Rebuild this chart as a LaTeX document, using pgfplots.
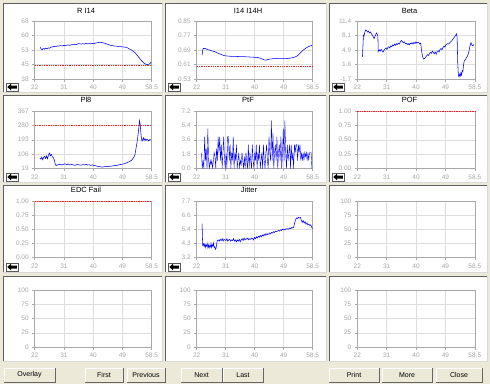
\documentclass[border=0pt]{standalone}
\usepackage{pgfplots}
\pgfplotsset{compat=1.18}
\usepackage{fontspec}
\setmainfont{Liberation Sans}
\definecolor{bg}{HTML}{ECE9D8}
\definecolor{tk}{HTML}{A8A8A8}
\definecolor{gr}{HTML}{DDDDDD}
\definecolor{ln}{HTML}{0000FF}
\definecolor{rd}{HTML}{F02020}
\pgfplotsset{
 mini/.style={clip=false, scale only axis, anchor=north west, xmin=22, xmax=58.5,
  xtick={22,31.125,40.25,49.375,58.5}, xticklabels={22,31,40,49,58.5},
  grid=major, major grid style={gr, line width=0.5pt},
  axis line style={tk, line width=0.5pt}, tick style={tk, line width=0.5pt},
  major tick length=2.5pt, tick align=outside, tick pos=left,
  ticklabel style={font=\fontsize{6.5}{7}\selectfont, text=gray!70},
  /pgf/number format/assume math mode=true},
 c1/.style={mini, width=117pt},
 c2/.style={mini, width=116pt},
 c3/.style={mini, width=117.5pt},
 blu/.style={draw=ln, line width=0.55pt, mark=none},
 redgrid/.style={extra y tick labels={}, extra y tick style={major tick length=0pt, grid=major,
   major grid style={draw=rd, line width=0.8pt, dash pattern=on 1.3pt off 1pt}}},
 unit/.style={ymin=0, ymax=1, ytick={0,0.25,0.5,0.75,1}, yticklabels={0.00,0.25,0.50,0.75,1.00}},
 hund/.style={ymin=0, ymax=100, ytick={0,25,50,75,100}, yticklabels={0,25,50,75,100}},
}
\newcommand\pnl[4]{%
 \fill[white] (#1,#2) rectangle (#3,#4);
 \draw[gray!75!black,line width=0.8pt] (#1,#4) -- (#1,#2) -- (#3,#2);
 \draw[gray!30,line width=0.8pt] (#3,#2) -- (#3,#4) -- (#1,#4);}
\newcommand\icon[2]{%
 \fill[white] (#1+3,#2-9) rectangle (#1+15,#2-1);
 \draw[black!65,line width=0.5pt] (#1+3,#2-9) rectangle (#1+15,#2-1);
 \fill[black] (#1+4.3,#2-5) -- (#1+8,#2-8.3) -- (#1+8,#2-6.5) -- (#1+13.8,#2-6.5) -- (#1+13.8,#2-3.5) -- (#1+8,#2-3.5) -- (#1+8,#2-1.7) -- cycle;}
\newcommand\btn[3]{%
 \fill[bg] (#1,368) rectangle (#2,382);
 \draw[white,line width=0.8pt] (#1,382) -- (#1,368) -- (#2,368);
 \draw[black!60,line width=0.8pt] (#2,368) -- (#2,382) -- (#1,382);
 \node[font=\fontsize{7}{8}\selectfont] at ({(#1+#2)/2},375) {#3};}
\begin{document}
\begin{tikzpicture}
\fill[bg] (0,0) rectangle (490pt,384pt);
\begin{scope}[x=1pt,y=-1pt,yshift=384pt]
 \pnl{3}{3}{162}{92}\pnl{165}{3}{326}{92}\pnl{329}{3}{487}{92}
 \pnl{3}{95}{162}{182}\pnl{165}{95}{326}{182}\pnl{329}{95}{487}{182}
 \pnl{3}{185}{162}{272}\pnl{165}{185}{326}{272}\pnl{329}{185}{487}{272}
 \pnl{3}{276}{162}{361}\pnl{165}{276}{326}{361}\pnl{329}{276}{487}{361}
 \btn{4}{55}{Overlay}\btn{85}{123}{First}\btn{127}{165}{Previous}
 \btn{181}{222}{Next}\btn{223}{263}{Last}
 \btn{329}{379}{Print}\btn{382}{432}{More}\btn{436}{482}{Close}
\end{scope}
% ---------- row 1
\begin{axis}[c1, at={(34.7pt,363pt)}, height=58pt, ymin=38, ymax=68,
  ytick={38,45.5,53,60.5,68}, yticklabels={38,45,53,60,68},
  extra y ticks={45}, redgrid]
\addplot[blu] coordinates {(23.7,54.4)(24.0,53.6)(24.3,53.0)(24.6,53.8)(25.0,53.4)(25.4,54.0)(25.8,53.6)(26.2,54.1)(26.6,53.9)(27.0,54.4)(27.5,54.6)(28.0,54.9)(28.5,54.7)(29.0,55.1)(29.5,55.0)(30.0,55.3)(30.5,55.1)(31.0,55.4)(31.5,55.2)(32.0,55.5)(32.5,55.6)(33.0,55.4)(33.5,55.8)(34.0,55.7)(34.5,56.0)(35.0,55.8)(35.5,56.2)(36.0,56.3)(36.5,56.0)(37.0,56.3)(37.5,56.1)(38.0,56.4)(38.5,56.2)(39.0,56.3)(39.5,56.2)(40.0,56.4)(40.5,56.3)(41.0,56.6)(41.5,56.7)(42.0,56.9)(42.5,57.0)(43.0,56.8)(43.5,56.6)(44.0,56.4)(44.5,56.1)(45.0,55.8)(45.5,55.5)(46.0,55.3)(46.5,55.2)(47.0,55.0)(47.5,55.0)(48.0,54.8)(48.5,54.7)(49.0,54.7)(49.5,54.6)(50.0,54.5)(50.5,54.4)(51.0,54.1)(51.5,53.6)(52.0,53.2)(52.5,52.6)(53.0,52.0)(53.5,51.2)(54.0,50.2)(54.5,49.2)(55.0,48.2)(55.5,47.2)(56.0,46.4)(56.5,45.8)(57.0,45.5)(57.5,45.6)(58.0,46.0)(58.3,46.8)};
\end{axis}
\begin{axis}[c2, at={(196.7pt,363pt)}, height=58pt, ymin=0.53, ymax=0.85,
  ytick={0.53,0.61,0.69,0.77,0.85}, yticklabels={0.53,0.61,0.69,0.77,0.85}]
\addplot[draw=rd, line width=0.8pt, dash pattern=on 1.3pt off 1pt, mark=none] coordinates {(22,0.602)(58.5,0.602)};
\addplot[blu] coordinates {(23.7,0.662)(23.9,0.690)(24.1,0.699)(24.4,0.697)(24.7,0.700)(25.0,0.695)(25.5,0.692)(26.0,0.690)(26.5,0.686)(27.0,0.684)(27.5,0.682)(28.0,0.678)(28.5,0.674)(29.0,0.670)(29.5,0.667)(30.0,0.663)(30.5,0.660)(31.0,0.658)(32.0,0.656)(33.0,0.655)(34.0,0.655)(35.0,0.654)(36.0,0.653)(37.0,0.653)(38.0,0.652)(39.0,0.651)(40.0,0.650)(41.0,0.649)(42.0,0.645)(42.5,0.641)(43.0,0.637)(43.5,0.634)(44.0,0.635)(44.5,0.638)(45.0,0.640)(46.0,0.642)(47.0,0.643)(48.0,0.642)(49.0,0.642)(50.0,0.642)(51.0,0.644)(52.0,0.647)(53.0,0.652)(53.5,0.656)(54.0,0.663)(54.5,0.672)(55.0,0.681)(55.5,0.689)(56.0,0.696)(56.5,0.702)(57.0,0.707)(57.5,0.711)(58.0,0.714)(58.3,0.716)};
\end{axis}
\begin{axis}[c3, at={(357.3pt,363pt)}, height=58pt, ymin=-1.7, ymax=11.4,
  ytick={-1.7,1.575,4.85,8.125,11.4}, yticklabels={-1.7,1.6,4.9,8.1,11.4}]
\addplot[blu] coordinates {(23.6,3.3)(23.8,6.5)(23.9,8.2)(24.1,8.0)(24.3,8.8)(24.6,9.4)(24.9,9.2)(25.2,8.9)(25.5,9.1)(25.8,8.7)(26.1,8.9)(26.4,8.5)(26.7,8.2)(27.0,7.8)(27.2,7.4)(27.5,7.9)(27.8,8.5)(28.0,8.7)(28.2,8.4)(28.4,8.0)(28.5,4.5)(28.8,4.9)(29.1,4.6)(29.4,5.0)(29.7,4.7)(30.0,4.4)(30.3,4.8)(30.6,5.1)(30.9,5.3)(31.2,5.0)(31.5,5.4)(31.8,5.6)(32.1,5.3)(32.4,5.8)(32.7,5.6)(33.0,6.0)(33.3,5.8)(33.6,6.2)(33.9,5.9)(34.2,6.3)(34.5,6.1)(34.8,6.4)(35.1,6.2)(35.4,6.7)(35.7,7.0)(36.0,6.8)(36.3,6.5)(36.6,6.7)(36.9,6.3)(37.2,6.4)(37.5,6.1)(37.8,6.3)(38.1,6.0)(38.4,6.4)(38.7,6.2)(39.0,6.5)(39.3,6.2)(39.6,6.6)(39.9,6.3)(40.2,6.7)(40.5,6.4)(40.8,6.6)(41.1,6.5)(41.4,6.2)(41.7,6.4)(42.0,4.5)(42.3,3.3)(42.6,2.8)(42.9,2.9)(43.2,3.2)(43.5,3.5)(43.8,3.8)(44.1,3.6)(44.4,4.0)(44.7,4.3)(45.0,4.1)(45.3,4.6)(45.6,4.3)(45.9,4.0)(46.2,4.4)(46.5,3.9)(46.8,4.5)(47.1,4.7)(47.4,4.4)(47.7,5.0)(48.0,5.2)(48.3,4.9)(48.6,5.4)(48.9,5.7)(49.2,5.5)(49.5,6.0)(49.8,6.1)(50.1,6.3)(50.4,6.2)(50.7,6.5)(51.0,6.7)(51.3,6.9)(51.6,7.2)(51.9,7.5)(52.2,7.8)(52.5,8.1)(52.8,8.5)(53.0,7.8)(53.2,2.0)(53.4,-0.8)(53.6,-1.2)(53.8,-0.6)(54.0,-1.0)(54.2,-0.3)(54.4,-0.8)(54.6,0.2)(54.8,0.0)(55.0,1.5)(55.2,2.3)(55.5,2.6)(55.8,3.0)(56.1,3.3)(56.4,3.8)(56.7,4.6)(57.0,5.8)(57.3,6.5)(57.6,6.0)(57.9,5.8)(58.2,6.1)};
\end{axis}
% ---------- row 2
\begin{axis}[c1, at={(34.7pt,273pt)}, height=57.5pt, ymin=19, ymax=367,
  ytick={19,106,193,280,367}, yticklabels={19,106,193,280,367},
  extra y ticks={280}, redgrid]
\addplot[blu] coordinates {(23.6,83)(23.9,76)(24.2,88)(24.5,72)(24.8,86)(25.1,93)(25.4,80)(25.7,95)(26.0,78)(26.3,100)(26.6,112)(26.9,96)(27.2,104)(27.5,90)(27.8,85)(28.1,72)(28.4,45)(28.7,37)(29.0,40)(29.5,43)(30.0,44)(30.5,40)(31.0,45)(31.5,47)(32.0,42)(32.5,46)(33.0,40)(33.5,44)(34.0,41)(34.5,38)(35.0,42)(35.5,43)(36.0,40)(36.5,39)(37.0,43)(37.5,41)(38.0,44)(38.5,40)(39.0,42)(39.5,38)(40.0,41)(40.5,37)(41.0,36)(41.5,33)(42.0,31)(42.5,30)(43.0,27)(43.5,29)(44.0,31)(44.5,30)(45.0,33)(45.5,32)(46.0,34)(46.5,35)(47.0,38)(47.5,37)(48.0,40)(48.5,42)(49.0,44)(49.5,46)(50.0,48)(50.5,52)(51.0,56)(51.5,60)(52.0,66)(52.5,75)(53.0,90)(53.3,105)(53.6,140)(53.9,175)(54.2,215)(54.5,270)(54.7,308)(54.9,290)(55.1,240)(55.3,200)(55.5,185)(55.7,195)(55.9,205)(56.1,190)(56.4,200)(56.7,188)(57.0,196)(57.3,192)(57.6,185)(57.9,195)(58.2,190)};
\end{axis}
\begin{axis}[c2, at={(196.7pt,273pt)}, height=57.5pt, ymin=0, ymax=7.2,
  ytick={0,1.8,3.6,5.4,7.2}, yticklabels={0.0,1.8,3.6,5.4,7.2}]
\addplot[blu, line width=0.4pt] coordinates {(23.5,2)(23.75,0)(24.0,1)(24.25,0)(24.5,4)(24.75,1)(25.0,2.5)(25.25,0)(25.5,5)(25.75,1)(26.0,0)(26.25,1)(26.5,0.5)(26.75,1)(27.0,0)(27.25,1)(27.5,2)(27.75,1.5)(28.0,0)(28.25,2.5)(28.5,1)(28.75,4)(29.0,2)(29.25,4)(29.5,1)(29.75,3)(30.0,0)(30.25,2)(30.5,4)(30.75,1)(31.0,0)(31.25,2)(31.5,0)(31.75,4)(32.0,4)(32.25,1)(32.5,3)(32.75,0)(33.0,2)(33.25,1)(33.5,4)(33.75,0)(34.0,2)(34.25,1)(34.5,3)(34.75,0)(35.0,1)(35.25,2)(35.5,0)(35.75,1)(36.0,0.5)(36.25,2)(36.5,1)(36.75,0)(37.0,1.5)(37.25,0)(37.5,2)(37.75,1)(38.0,0)(38.25,3)(38.5,0)(38.75,2)(39.0,1)(39.25,0)(39.5,3)(39.75,1)(40.0,0)(40.25,2)(40.5,1)(40.75,3)(41.0,0)(41.25,2)(41.5,1)(41.75,3)(42.0,0)(42.25,1)(42.5,2)(42.75,0)(43.0,3)(43.25,1)(43.5,0)(43.75,2)(44.0,3)(44.25,1)(44.5,0)(44.75,4)(45.0,2)(45.25,1)(45.5,6)(45.75,1)(46.0,4.5)(46.25,0)(46.5,2)(46.75,3)(47.0,1)(47.25,4)(47.5,0)(47.75,2)(48.0,3)(48.25,1)(48.5,4)(48.75,0)(49.0,2)(49.25,5)(49.5,1)(49.75,6)(50.0,2)(50.25,0)(50.5,3)(50.75,1)(51.0,2)(51.25,3)(51.5,0)(51.75,3)(52.0,1)(52.25,2)(52.5,0)(52.75,3)(53.0,2)(53.25,3)(53.5,3)(53.75,1)(54.0,3)(54.25,2)(54.5,3)(54.75,1)(55.0,2)(55.25,1)(55.5,2)(55.75,1)(56.0,2)(56.25,1.5)(56.5,2)(56.75,1)(57.0,2)(57.25,1)(57.5,2)(57.75,2)(58.0,2)(58.25,0)};
\end{axis}
\begin{axis}[c3, at={(357.3pt,273pt)}, height=57.5pt, unit, extra y ticks={1}, redgrid]
\end{axis}
% ---------- row 3
\begin{axis}[c1, at={(34.7pt,183pt)}, height=56.5pt, unit, extra y ticks={1}, redgrid]
\end{axis}
\begin{axis}[c2, at={(196.7pt,183pt)}, height=56.5pt, ymin=3.2, ymax=7.7,
  ytick={3.2,4.325,5.45,6.575,7.7}, yticklabels={3.2,4.3,5.4,6.6,7.7}]
\addplot[blu] coordinates {(23.7,5.9)(23.8,4.8)(23.9,4.2)(24.1,4.3)(24.3,4.1)(24.5,4.25)(24.7,4.0)(24.9,4.2)(25.1,4.1)(25.3,4.3)(25.5,4.0)(25.7,4.2)(25.9,3.95)(26.1,4.15)(26.3,4.05)(26.5,4.3)(26.7,4.0)(26.9,4.2)(27.1,4.1)(27.3,4.35)(27.5,4.0)(27.7,4.05)(27.9,3.85)(28.1,3.95)(28.3,4.3)(28.5,4.55)(28.8,4.6)(29.1,4.5)(29.4,4.65)(29.7,4.55)(30.0,4.7)(30.3,4.5)(30.6,4.65)(30.9,4.6)(31.2,4.55)(31.5,4.7)(31.8,4.5)(32.1,4.6)(32.4,4.65)(32.7,4.5)(33.0,4.6)(33.3,4.55)(33.6,4.7)(33.9,4.5)(34.2,4.6)(34.5,4.45)(34.8,4.6)(35.1,4.5)(35.4,4.65)(35.7,4.45)(36.0,4.6)(36.3,4.7)(36.6,4.55)(36.9,4.75)(37.2,4.6)(37.5,4.7)(37.8,4.65)(38.1,4.75)(38.4,4.6)(38.7,4.7)(39.0,4.65)(39.3,4.75)(39.6,4.7)(39.9,4.6)(40.2,4.8)(40.5,4.7)(40.8,4.85)(41.1,4.75)(41.4,4.9)(41.7,4.8)(42.0,4.95)(42.3,4.85)(42.6,5.0)(42.9,4.9)(43.2,5.05)(43.5,4.95)(43.8,5.1)(44.1,5.0)(44.4,5.1)(44.7,5.05)(45.0,5.15)(45.3,5.1)(45.6,5.2)(45.9,5.15)(46.2,5.25)(46.5,5.2)(46.8,5.3)(47.1,5.25)(47.4,5.3)(47.7,5.35)(48.0,5.3)(48.3,5.4)(48.6,5.35)(48.9,5.45)(49.2,5.4)(49.5,5.45)(49.8,5.4)(50.1,5.5)(50.4,5.45)(50.7,5.5)(51.0,5.45)(51.3,5.55)(51.6,5.5)(51.9,5.6)(52.2,5.55)(52.5,5.6)(52.8,5.95)(53.1,6.2)(53.4,6.35)(53.7,6.3)(54.0,6.4)(54.3,6.35)(54.6,6.4)(54.9,6.2)(55.2,6.0)(55.5,6.15)(55.8,5.95)(56.1,6.05)(56.4,5.85)(56.7,5.95)(57.0,5.8)(57.3,5.85)(57.6,5.75)(57.9,5.8)(58.2,5.6)(58.4,5.5)};
\end{axis}
\begin{axis}[c3, at={(357.3pt,183pt)}, height=56.5pt, hund]
\end{axis}
% ---------- row 4
\begin{axis}[c1, at={(34.7pt,94pt)}, height=57pt, hund]
\end{axis}
\begin{axis}[c2, at={(196.7pt,94pt)}, height=57pt, hund]
\end{axis}
\begin{axis}[c3, at={(357.3pt,94pt)}, height=57pt, hund]
\end{axis}
\begin{scope}[x=1pt,y=-1pt,yshift=384pt]
 \icon{3}{92}\icon{165}{92}\icon{329}{92}
 \icon{3}{182}\icon{165}{182}\icon{329}{182}
 \icon{3}{272}\icon{165}{272}
 \begin{scope}[font=\fontsize{7.5}{9}\selectfont]
 \node at (86,11) {R I14};
 \node at (248,11) {I14 I14H};
 \node at (409.5,11) {Beta};
 \node at (86,99.5) {Pl8};
 \node at (248,99.5) {PtF};
 \node at (409.5,99.5) {POF};
 \node at (86,190) {EDC Fail};
 \node at (249,190) {Jitter};
 \end{scope}
\end{scope}
\end{tikzpicture}
\end{document}
